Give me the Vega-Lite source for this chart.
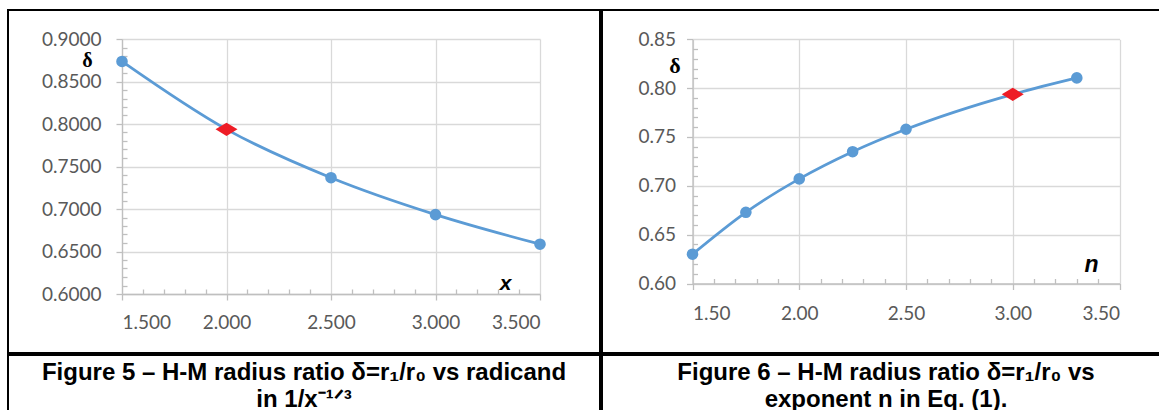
{
  "$schema": "https://vega.github.io/schema/vega-lite/v6.json",
  "padding": {"left": 7, "top": 9, "right": 0, "bottom": 0},
  "background": "white",
  "spacing": 0,
  "config": {
    "view": {"stroke": "black", "strokeWidth": 2},
    "axis": {"labelFont": "Lato", "labelFontSize": 19, "labelColor": "#595959", "domainColor": "#bfbfbf", "tickColor": "#bfbfbf", "gridColor": "#d9d9d9", "gridWidth": 1.3, "domainWidth": 1.3, "tickWidth": 1.3}
  },
  "datasets": {
    "fig5": [
      {"x": 1.5, "delta": 0.8736, "hl": 0},
      {"x": 2.0, "delta": 0.7937, "hl": 1},
      {"x": 2.5, "delta": 0.7368, "hl": 0},
      {"x": 3.0, "delta": 0.6934, "hl": 0},
      {"x": 3.5, "delta": 0.6586, "hl": 0}
    ],
    "fig6": [
      {"n": 1.5, "delta": 0.6300, "hl": 0},
      {"n": 1.75, "delta": 0.6729, "hl": 0},
      {"n": 2.0, "delta": 0.7071, "hl": 0},
      {"n": 2.25, "delta": 0.7349, "hl": 0},
      {"n": 2.5, "delta": 0.7579, "hl": 0},
      {"n": 3.0, "delta": 0.7937, "hl": 1},
      {"n": 3.3, "delta": 0.8105, "hl": 0}
    ],
    "cap5": [
      {"line": 1, "text": "Figure 5 – H-M radius ratio δ=r₁/r₀ vs radicand"},
      {"line": 2, "text": "in 1/x⁻¹ᐟ³"}
    ],
    "cap6": [
      {"line": 1, "text": "Figure 6 – H-M radius ratio δ=r₁/r₀ vs"},
      {"line": 2, "text": "exponent n in Eq. (1)."}
    ]
  },
  "vconcat": [
    {
      "spacing": 0,
      "hconcat": [
        {
          "width": 592,
          "height": 343,
          "data": {"name": "fig5"},
          "resolve": {"axis": {"x": "independent", "y": "independent"}},
          "layer": [
            {
              "mark": {"type": "line", "interpolate": "monotone", "color": "#5B9BD5", "strokeWidth": 2.8},
              "encoding": {
                "x": {"field": "x", "type": "quantitative",
                  "scale": {"domain": [1.5, 3.5], "range": [114, 532], "nice": false, "zero": false},
                  "axis": {"orient": "bottom", "offset": -59, "values": [1.5, 2, 2.5, 3, 3.5], "format": ".3f", "grid": false, "tickSize": 6, "labelPadding": 13,
                    "title": "x", "titleX": 497, "titleY": -11, "titleAlign": "center", "titleBaseline": "middle", "titleFont": "Liberation Sans", "titleFontStyle": "italic", "titleFontWeight": "bold", "titleFontSize": 21, "titleColor": "black"}},
                "y": {"field": "delta", "type": "quantitative",
                  "scale": {"domain": [0.6, 0.9], "range": [284, 29], "nice": false, "zero": false},
                  "axis": {"orient": "left", "offset": -114, "values": [0.6, 0.65, 0.7, 0.75, 0.8, 0.85, 0.9], "format": ".4f", "grid": true, "tickSize": 6, "labelPadding": 15,
                    "title": "δ", "titleAngle": 0, "titleX": -35, "titleY": 50, "titleAlign": "center", "titleBaseline": "middle", "titleFont": "Liberation Serif", "titleFontWeight": "bold", "titleFontSize": 20, "titleColor": "black"}}
              }
            },
            {
              "transform": [{"filter": "datum.hl == 0"}],
              "mark": {"type": "point", "filled": true, "opacity": 1, "size": 135, "color": "#5B9BD5"},
              "encoding": {
                "x": {"field": "x", "type": "quantitative",
                  "axis": {"orient": "bottom", "offset": -59, "values": [1.6, 1.7, 1.8, 1.9, 2.1, 2.2, 2.3, 2.4, 2.6, 2.7, 2.8, 2.9, 3.1, 3.2, 3.3, 3.4], "labels": false, "domain": false, "grid": false, "tickSize": -5, "title": null}},
                "y": {"field": "delta", "type": "quantitative",
                  "axis": {"orient": "left", "offset": -114, "values": [0.61, 0.62, 0.63, 0.64, 0.66, 0.67, 0.68, 0.69, 0.71, 0.72, 0.73, 0.74, 0.76, 0.77, 0.78, 0.79, 0.81, 0.82, 0.83, 0.84, 0.86, 0.87, 0.88, 0.89], "labels": false, "domain": false, "grid": false, "tickSize": -5, "title": null}}
              }
            },
            {
              "transform": [{"filter": "datum.hl == 1"}],
              "mark": {"type": "point", "filled": true, "opacity": 1, "size": 484, "color": "#EE1C25", "shape": "M-1,0L0,-0.6L1,0L0,0.6Z"},
              "encoding": {
                "x": {"field": "x", "type": "quantitative",
                  "axis": {"orient": "top", "offset": 0, "values": [1.5, 2, 2.5, 3, 3.5], "labels": false, "domain": false, "ticks": false, "grid": true, "title": null}},
                "y": {"field": "delta", "type": "quantitative", "axis": null}
              }
            }
          ]
        },
        {
          "width": 568,
          "height": 343,
          "data": {"name": "fig6"},
          "resolve": {"axis": {"x": "independent", "y": "independent"}},
          "layer": [
            {
              "mark": {"type": "line", "interpolate": "monotone", "color": "#5B9BD5", "strokeWidth": 2.8},
              "encoding": {
                "x": {"field": "n", "type": "quantitative",
                  "scale": {"domain": [1.5, 3.5], "range": [90.5, 517.5], "nice": false, "zero": false},
                  "axis": {"orient": "bottom", "offset": -69.5, "values": [1.5, 2, 2.5, 3, 3.5], "format": ".2f", "grid": false, "tickSize": 6, "labelPadding": 15,
                    "title": "n", "titleX": 489, "titleY": -19, "titleAlign": "center", "titleBaseline": "middle", "titleFont": "Liberation Sans", "titleFontStyle": "italic", "titleFontWeight": "bold", "titleFontSize": 23, "titleColor": "black"}},
                "y": {"field": "delta", "type": "quantitative",
                  "scale": {"domain": [0.6, 0.85], "range": [273.5, 29.3], "nice": false, "zero": false},
                  "axis": {"orient": "left", "offset": -90.5, "values": [0.6, 0.65, 0.7, 0.75, 0.8, 0.85], "format": ".2f", "grid": true, "tickSize": 6, "labelPadding": 11,
                    "title": "δ", "titleAngle": 0, "titleX": -18, "titleY": 55, "titleAlign": "center", "titleBaseline": "middle", "titleFont": "Liberation Serif", "titleFontWeight": "bold", "titleFontSize": 22, "titleColor": "black"}}
              }
            },
            {
              "transform": [{"filter": "datum.hl == 0"}],
              "mark": {"type": "point", "filled": true, "opacity": 1, "size": 135, "color": "#5B9BD5"},
              "encoding": {
                "x": {"field": "n", "type": "quantitative",
                  "axis": {"orient": "bottom", "offset": -69.5, "values": [1.6, 1.7, 1.8, 1.9, 2.1, 2.2, 2.3, 2.4, 2.6, 2.7, 2.8, 2.9, 3.1, 3.2, 3.3, 3.4], "labels": false, "domain": false, "grid": false, "tickSize": -5, "title": null}},
                "y": {"field": "delta", "type": "quantitative",
                  "axis": {"orient": "left", "offset": -90.5, "values": [0.61, 0.62, 0.63, 0.64, 0.66, 0.67, 0.68, 0.69, 0.71, 0.72, 0.73, 0.74, 0.76, 0.77, 0.78, 0.79, 0.81, 0.82, 0.83, 0.84], "labels": false, "domain": false, "grid": false, "tickSize": -5, "title": null}}
              }
            },
            {
              "transform": [{"filter": "datum.hl == 1"}],
              "mark": {"type": "point", "filled": true, "opacity": 1, "size": 484, "color": "#EE1C25", "shape": "M-1,0L0,-0.6L1,0L0,0.6Z"},
              "encoding": {
                "x": {"field": "n", "type": "quantitative",
                  "axis": {"orient": "top", "offset": 0, "values": [1.5, 2, 2.5, 3, 3.5], "labels": false, "domain": false, "ticks": false, "grid": true, "title": null}},
                "y": {"field": "delta", "type": "quantitative", "axis": null}
              }
            }
          ]
        }
      ]
    },
    {
      "spacing": 0,
      "hconcat": [
        {
          "width": 592,
          "height": 63,
          "data": {"name": "cap5"},
          "mark": {"type": "text", "font": "Liberation Sans", "fontWeight": "bold", "fontSize": 24, "color": "black", "baseline": "middle"},
          "encoding": {
            "y": {"field": "line", "type": "ordinal", "axis": null, "scale": {"padding": 0.7}},
            "text": {"field": "text"}
          }
        },
        {
          "width": 568,
          "height": 63,
          "data": {"name": "cap6"},
          "mark": {"type": "text", "font": "Liberation Sans", "fontWeight": "bold", "fontSize": 24, "color": "black", "baseline": "middle"},
          "encoding": {
            "y": {"field": "line", "type": "ordinal", "axis": null, "scale": {"padding": 0.7}},
            "text": {"field": "text"}
          }
        }
      ]
    }
  ]
}
